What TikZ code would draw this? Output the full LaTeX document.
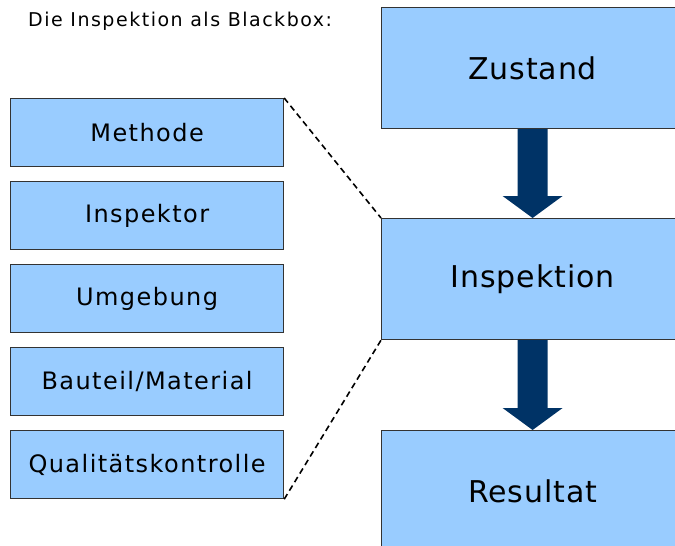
\documentclass[tikz,border=0pt]{standalone}
\usepackage{fontspec}
\setmainfont{DejaVu Sans}
\newfontfamily\titlefont[LetterSpace=8]{DejaVu Sans}
\newfontfamily\smallfont[LetterSpace=6]{DejaVu Sans}
\newfontfamily\bigfont[LetterSpace=3]{DejaVu Sans}
\usetikzlibrary{calc}
\definecolor{boxfill}{HTML}{99CCFF}
\definecolor{boxline}{HTML}{333333}
\definecolor{arrowc}{HTML}{003366}
\begin{document}
\begin{tikzpicture}[x=1pt,y=-1pt,
  leftbox/.style={draw=boxline, line width=1.2pt, fill=boxfill, anchor=north west,
    minimum width=273pt, minimum height=68pt, inner sep=0pt,
    font=\smallfont\fontsize{24}{27}\selectfont},
  rightbox/.style={draw=boxline, line width=1.2pt, fill=boxfill, anchor=north west,
    minimum width=302pt, minimum height=121pt, inner sep=0pt,
    font=\bigfont\fontsize{30}{34}\selectfont},
  blockarrow/.style={fill=arrowc, draw=none},
  dashline/.style={dashed, line width=1.6pt, dash pattern=on 6pt off 4pt}]
\clip (0,0) rectangle (675,546);
\useasboundingbox (0,0) rectangle (675,546);
\fill[white] (0,0) rectangle (675,546);
\node[anchor=base west, inner sep=0pt, font=\titlefont\fontsize{19}{21}\selectfont] (title) at (28,26) {Die Inspektion als Blackbox:};
\node[leftbox] (meth) at (10,98) {Methode};
\node[leftbox] (insr) at (10,181) {Inspektor};
\node[leftbox] (umg) at (10,264) {Umgebung};
\node[leftbox] (baut) at (10,347) {Bauteil/Material};
\node[leftbox] (qual) at (10,430) {Qualitätskontrolle};
\node[rightbox] (zust) at (381,7) {Zustand};
\node[rightbox] (insp) at (381,218) {Inspektion};
\node[rightbox] (res) at (381,430) {Resultat};
\fill[blockarrow] ($(zust.south)+(-15,0)$) -- ($(zust.south)+(15,0)$) -- ($(insp.north)+(15,-22)$) -- ($(insp.north)+(30,-22)$) -- (insp.north) -- ($(insp.north)+(-30,-22)$) -- ($(insp.north)+(-15,-22)$) -- cycle;
\fill[blockarrow] ($(insp.south)+(-15,0)$) -- ($(insp.south)+(15,0)$) -- ($(res.north)+(15,-22)$) -- ($(res.north)+(30,-22)$) -- (res.north) -- ($(res.north)+(-30,-22)$) -- ($(res.north)+(-15,-22)$) -- cycle;
\draw[dashline] (meth.north east) -- (insp.north west);
\draw[dashline] (qual.south east) -- (insp.south west);
\end{tikzpicture}
\end{document}
